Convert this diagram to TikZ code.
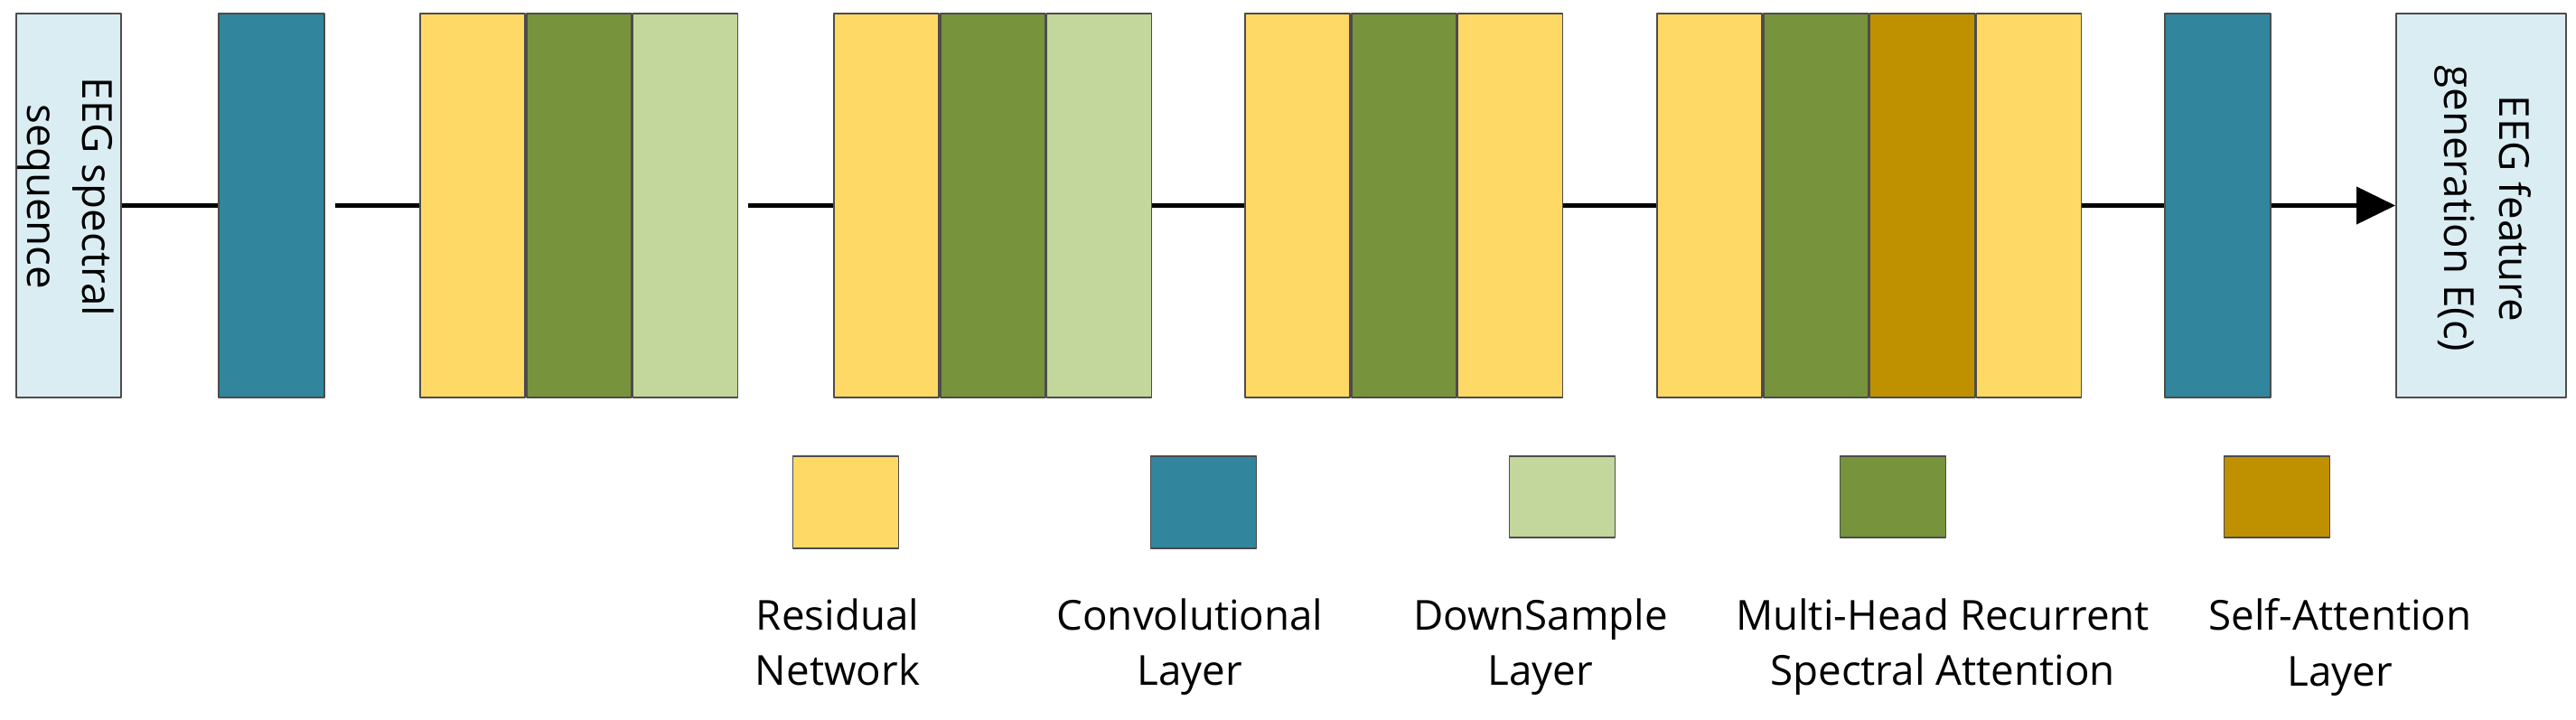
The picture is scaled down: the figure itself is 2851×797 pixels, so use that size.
\documentclass[tikz,border=0pt]{standalone}
\usepackage{fontspec}
\setmainfont{Open Sans}
\usetikzlibrary{arrows.meta}
\definecolor{inblue}{HTML}{DAEDF3}
\definecolor{convteal}{HTML}{31859C}
\definecolor{resyellow}{HTML}{FFD966}
\definecolor{mhgreen}{HTML}{77933C}
\definecolor{dsgreen}{HTML}{C3D69B}
\definecolor{sagold}{HTML}{BF9000}
\begin{document}
\begin{tikzpicture}[x=0.01cm, y=-0.01cm, line join=round,
	blk/.style={draw=black!70, line width=0.5pt, minimum width=1.16cm, minimum height=4.25cm, inner sep=0pt, anchor=west},
	key/.style={draw=black!70, line width=0.5pt, minimum width=1.17cm, inner sep=0pt},
	lbl/.style={font=\fontsize{13}{17.5}\selectfont, align=center, inner sep=0pt},
	link/.style={line width=1.2pt}]
	\useasboundingbox (0,0) rectangle (2851,797);
	\fill[white] (0,0) rectangle (2851,797);
	% Đầu vào và tích chập đầu
	\node[blk, fill=inblue] (inp) at (17,227.5) {};
	\node[lbl, rotate=-90] (inptxt) at (73,218) {EEG spectral\\sequence};
	\node[blk, fill=convteal, minimum width=1.17cm] (conv1) at (241,227.5) {};
	% Khối 1
	\node[blk, fill=resyellow] (r1) at (464,227.5) {};
	\node[blk, fill=mhgreen] (mh1) at (r1.east) {};
	\node[blk, fill=dsgreen] (ds1) at (mh1.east) {};
	% Khối 2
	\node[blk, fill=resyellow] (r2) at (922,227.5) {};
	\node[blk, fill=mhgreen] (mh2) at (r2.east) {};
	\node[blk, fill=dsgreen] (ds2) at (mh2.east) {};
	% Khối 3
	\node[blk, fill=resyellow] (r3) at (1377,227.5) {};
	\node[blk, fill=mhgreen] (mh3) at (r3.east) {};
	\node[blk, fill=resyellow] (r3b) at (mh3.east) {};
	% Khối 4
	\node[blk, fill=resyellow] (r4) at (1833,227.5) {};
	\node[blk, fill=mhgreen] (mh4) at (r4.east) {};
	\node[blk, fill=sagold] (sa4) at (mh4.east) {};
	\node[blk, fill=resyellow] (r4b) at (sa4.east) {};
	% Tích chập cuối và đầu ra
	\node[blk, fill=convteal, minimum width=1.17cm] (conv2) at (2395,227.5) {};
	\node[blk, fill=inblue, minimum width=1.88cm] (out) at (2651,227.5) {};
	\node[lbl, rotate=-90] (outtxt) at (2748,231) {EEG feature\\generation E(c)};
	% Nối các khối
	\draw[link] (inp.east)--(conv1.west);
	\draw[link, shorten <=0.11cm] (conv1.east)--(r1.west);
	\draw[link, shorten <=0.11cm] (ds1.east)--(r2.west);
	\draw[link] (ds2.east)--(r3.west);
	\draw[link] (r3b.east)--(r4.west);
	\draw[link] (r4b.east)--(conv2.west);
	\draw[link, -{Triangle[length=0.43cm, width=0.41cm]}] (conv2.east)--(out.west);
	% Chú thích
	\node[key, fill=resyellow, minimum height=1.02cm] (k1) at (936,556) {};
	\node[key, fill=convteal, minimum height=1.02cm] (k2) at (1332,556) {};
	\node[key, fill=dsgreen, minimum height=0.9cm] (k3) at (1729,550) {};
	\node[key, fill=mhgreen, minimum height=0.9cm] (k4) at (2095,550) {};
	\node[key, fill=sagold, minimum height=0.9cm] (k5) at (2520,550) {};
	\node[lbl, anchor=north] (t1) at (927,662) {Residual\\Network};
	\node[lbl, anchor=north] (t2) at (1317,662) {Convolutional\\Layer};
	\node[lbl, anchor=north] (t3) at (1705,662) {DownSample\\Layer};
	\node[lbl, anchor=north] (t4) at (2150,662) {Multi-Head Recurrent\\Spectral Attention};
	\node[lbl, anchor=north] (t5) at (2590,662) {Self-Attention\\Layer};
\end{tikzpicture}
\end{document}
